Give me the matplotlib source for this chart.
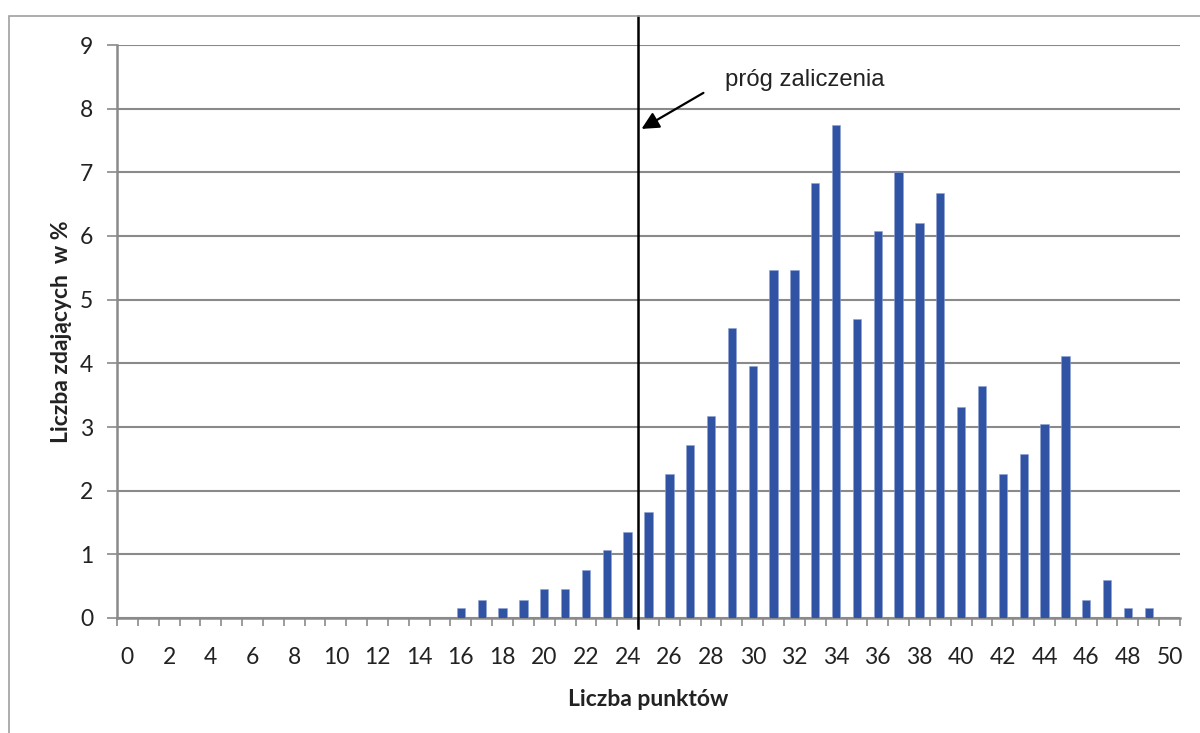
import matplotlib
matplotlib.use("Agg")
import matplotlib.pyplot as plt
from matplotlib.patches import Rectangle

points = list(range(0, 51))
percent = [0]*16 + [0.16, 0.29, 0.16, 0.29, 0.45, 0.45, 0.75, 1.07, 1.35,
                    1.66, 2.26, 2.72, 3.17, 4.55, 3.96, 5.46, 5.46, 6.84, 7.75,
                    4.70, 6.08, 7.00, 6.21, 6.68, 3.32, 3.64, 2.26, 2.57, 3.04,
                    4.11, 0.29, 0.60, 0.16, 0.16, 0]
xtick_labels = [str(v) for v in range(0, 51, 2)]
yticks = list(range(0, 10))
threshold = 24.5

plt.rcParams['font.family'] = ['Lato', 'DejaVu Sans']

fig = plt.figure(figsize=(12, 7.33), dpi=100)
ax = fig.add_axes([117/1200, 1-618/733, (1180-117)/1200, (618-45)/733])

# outer frame
fig.patches.append(Rectangle((9/1200, -0.05), 1.1, 1-16/733+0.05, transform=fig.transFigure,
                             fill=False, edgecolor='#a0a0a0', linewidth=1.2))

ax.bar(points, percent, width=0.4, color='#3153A3', edgecolor='#8fa3d4', linewidth=0.4, zorder=3)

ax.set_xlim(-0.5, 50.5)
ax.set_ylim(0, 9)
ax.set_yticks(yticks)
ax.set_yticklabels([str(v) for v in yticks], fontsize=16.5, color='#222222')
ax.yaxis.grid(True, color='#8a8a8a', linewidth=1.5, zorder=1)
ax.set_axisbelow(True)

ax.set_xticks([i - 0.5 for i in range(0, 52)])
ax.set_xticklabels([])
ax.set_xticks(list(range(0, 51, 2)), minor=True)
ax.set_xticklabels(xtick_labels, minor=True, fontsize=16.5, color='#222222')
ax.tick_params(axis='x', which='major', direction='out', length=6, width=1.2, color='#8a8a8a')
ax.tick_params(axis='x', which='minor', length=0, pad=21)
ax.tick_params(axis='y', direction='out', length=7, width=1.2, color='#8a8a8a', pad=10)

for s in ['top', 'right']:
    ax.spines[s].set_visible(False)
for s in ['left', 'bottom']:
    ax.spines[s].set_color('#8a8a8a')
    ax.spines[s].set_linewidth(1.8)

ax.set_xlabel('Liczba punktów', fontsize=16.5, fontweight='bold', color='#222222', labelpad=15)
ax.set_ylabel('Liczba zdających  w %', fontsize=16.5, fontweight='bold', color='#222222', labelpad=6)

# threshold line
ax.plot([threshold, threshold], [-0.16, 9.45], color='black', linewidth=1.8, clip_on=False, zorder=5)

ax.annotate('', xy=(24.55, 7.66), xytext=(27.75, 8.27),
            arrowprops=dict(arrowstyle='-|>', color='black', lw=1.6, mutation_scale=26),
            zorder=6)
ax.text(28.67, 8.45, 'próg zaliczenia', fontsize=17.2, family=['Liberation Sans', 'DejaVu Sans'],
        color='#222222', va='center', ha='left')

fig.savefig('out.png', dpi=100)
